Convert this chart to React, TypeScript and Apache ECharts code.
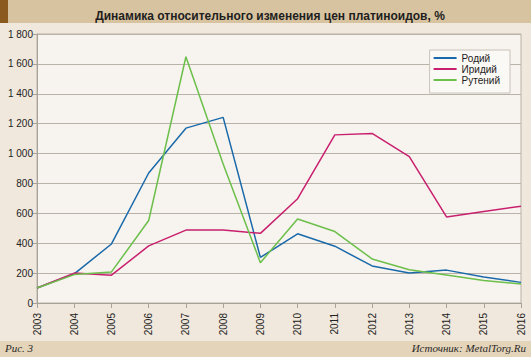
import React, { useEffect, useRef } from "react";
import * as echarts from "echarts";

const years = ["2003","2004","2005","2006","2007","2008","2009","2010","2011","2012","2013","2014","2015","2016"];
const rhodium = [100, 195, 395, 870, 1170, 1242, 305, 463, 380, 248, 200, 220, 174, 138];
const iridium = [100, 200, 186, 382, 488, 488, 466, 698, 1125, 1135, 980, 576, 612, 648];
const ruthenium = [100, 190, 208, 552, 1648, 930, 270, 562, 478, 295, 222, 188, 151, 127];
const seriesNames = ["Родий", "Иридий", "Рутений"];

const fmt = (v: number) => {
  const s = String(v);
  return s.length > 3 ? s.slice(0, s.length - 3) + " " + s.slice(-3) : s;
};

export default function App() {
  const ref = useRef<HTMLDivElement>(null);
  useEffect(() => {
    const chart = echarts.init(ref.current!, null, { renderer: "svg" });
    const sans = "'Liberation Sans', Arial, sans-serif";
    const serif = "'Liberation Serif', 'Times New Roman', serif";
    chart.setOption({
      animation: false,
      backgroundColor: "#f0e8dc",
      graphic: [
        { type: "rect", shape: { x: 0, y: 0, width: 531, height: 23 }, style: { fill: "#d8c3a0" }, z: 0 },
        { type: "rect", shape: { x: 0, y: 0, width: 8, height: 23 }, style: { fill: "#8b5a1e" }, z: 1 },
        { type: "rect", shape: { x: 0, y: 341, width: 531, height: 16 }, style: { fill: "#e4d4b9" }, z: 0 },
        { type: "text", left: 5, top: 342, style: { text: "Рис. 3", font: "italic 11px " + serif, fill: "#2a2a2a" } },
        { type: "text", right: 5, top: 342, style: { text: "Источник: MetalTorg.Ru", font: "italic 11px " + serif, fill: "#2a2a2a" } },
      ],
      title: {
        text: "Динамика относительного изменения цен платиноидов, %",
        left: 265,
        textAlign: "center",
        top: 5,
        textStyle: { fontFamily: sans, fontSize: 12, fontWeight: "bold", color: "#1e1e1e" },
      },
      legend: {
        data: seriesNames,
        orient: "vertical",
        right: 21,
        top: 50,
        backgroundColor: "#fbf9f5",
        borderColor: "#c8c2b8",
        borderWidth: 1,
        padding: [3, 10, 8, 4],
        itemGap: 1,
        itemWidth: 23,
        itemHeight: 2,
        icon: "rect",
        textStyle: { fontFamily: sans, fontSize: 10, color: "#222", padding: [0, 0, 0, 0] },
      },
      grid: {
        left: 37,
        right: 10,
        top: 34,
        bottom: 54,
        show: true,
        backgroundColor: "#f7f3ee",
        borderColor: "#b8b2a8",
        borderWidth: 1,
      },
      xAxis: {
        type: "category",
        data: years,
        boundaryGap: false,
        axisLine: { lineStyle: { color: "#a8a29a" } },
        axisTick: { show: true, length: 5, lineStyle: { color: "#a8a29a" } },
        axisLabel: { rotate: 90, fontFamily: sans, fontSize: 10, color: "#222", margin: 10 },
        splitLine: { show: false },
      },
      yAxis: {
        type: "value",
        min: 0,
        max: 1800,
        interval: 200,
        axisLine: { show: true, lineStyle: { color: "#a8a29a" } },
        axisTick: { show: true, length: 4, lineStyle: { color: "#a8a29a" } },
        axisLabel: { fontFamily: sans, fontSize: 10, color: "#222", margin: 4, formatter: fmt },
        splitLine: { lineStyle: { color: "#b8b2a8", width: 1 } },
      },
      series: [
        { name: seriesNames[0], type: "line", data: rhodium, showSymbol: false, color: "#1a6aab", lineStyle: { width: 1.5 } },
        { name: seriesNames[1], type: "line", data: iridium, showSymbol: false, color: "#c8206e", lineStyle: { width: 1.5 } },
        { name: seriesNames[2], type: "line", data: ruthenium, showSymbol: false, color: "#6cbf4a", lineStyle: { width: 1.5 } },
      ],
    });
    return () => chart.dispose();
  }, []);
  return (
    <div style={{ position: "fixed", left: 0, top: 0, width: 531, height: 357 }}>
      <div ref={ref} style={{ width: 531, height: 357 }} />
    </div>
  );
}
